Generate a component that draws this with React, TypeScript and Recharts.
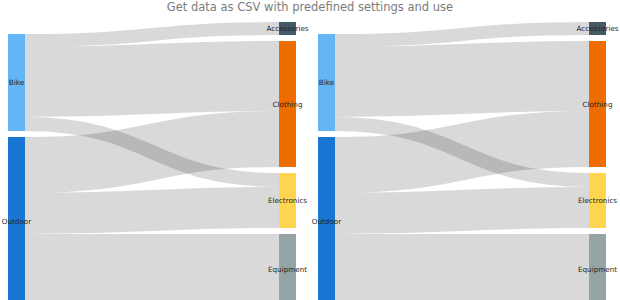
import React from 'react';
import { Sankey, Rectangle, Layer } from 'recharts';

const nodeNames = ['Bike', 'Outdoor', 'Accessories', 'Clothing', 'Electronics', 'Equipment'];
const nodeColors = ['#64b5f6', '#1976d2', '#455a64', '#ef6c00', '#ffd54f', '#95a5a6'];

const linkSources = [0, 0, 0, 1, 1, 1];
const linkTargets = [2, 3, 4, 3, 4, 5];
const linkValues = [13, 70, 14, 56, 41, 71];

const sankeyData = {
  nodes: nodeNames.map((name, i) => ({ name, color: nodeColors[i] })),
  links: linkValues.map((value, i) => ({
    source: linkSources[i],
    target: linkTargets[i],
    value,
  })),
};

const SankeyNode = (props: any) => {
  const { x, y, width, height, payload } = props;
  return (
    <Layer>
      <Rectangle x={x} y={y} width={width} height={height} fill={payload.color} fillOpacity={1} />
      <text
        x={x + width / 2}
        y={y + height / 2}
        textAnchor="middle"
        dominantBaseline="central"
        fontSize={7.2}
        fontFamily="'DejaVu Sans', sans-serif"
        fill="#1f1f1f"
      >
        {payload.name}
      </text>
    </Layer>
  );
};

const Panel = () => (
  <Sankey
    width={310}
    height={310}
    data={sankeyData}
    nodeWidth={17}
    nodePadding={6}
    margin={{ top: 22, right: 14, bottom: 5, left: 8 }}
    node={<SankeyNode />}
    link={{ stroke: '#000', strokeOpacity: 0.15 }}
  />
);

export default function App() {
  return (
    <div style={{ position: 'absolute', left: 0, top: 0, width: 620, height: 300, overflow: 'hidden', background: '#fff' }}>
      <div
        style={{
          position: 'absolute',
          top: 0,
          width: 620,
          textAlign: 'center',
          fontFamily: "'DejaVu Sans', sans-serif",
          fontSize: 11.5,
          lineHeight: '14px',
          color: '#7c7c7c',
        }}
      >
        Get data as CSV with predefined settings and use
      </div>
      <div style={{ position: 'absolute', top: 0, left: 0, display: 'flex' }}>
        <Panel />
        <Panel />
      </div>
    </div>
  );
}
